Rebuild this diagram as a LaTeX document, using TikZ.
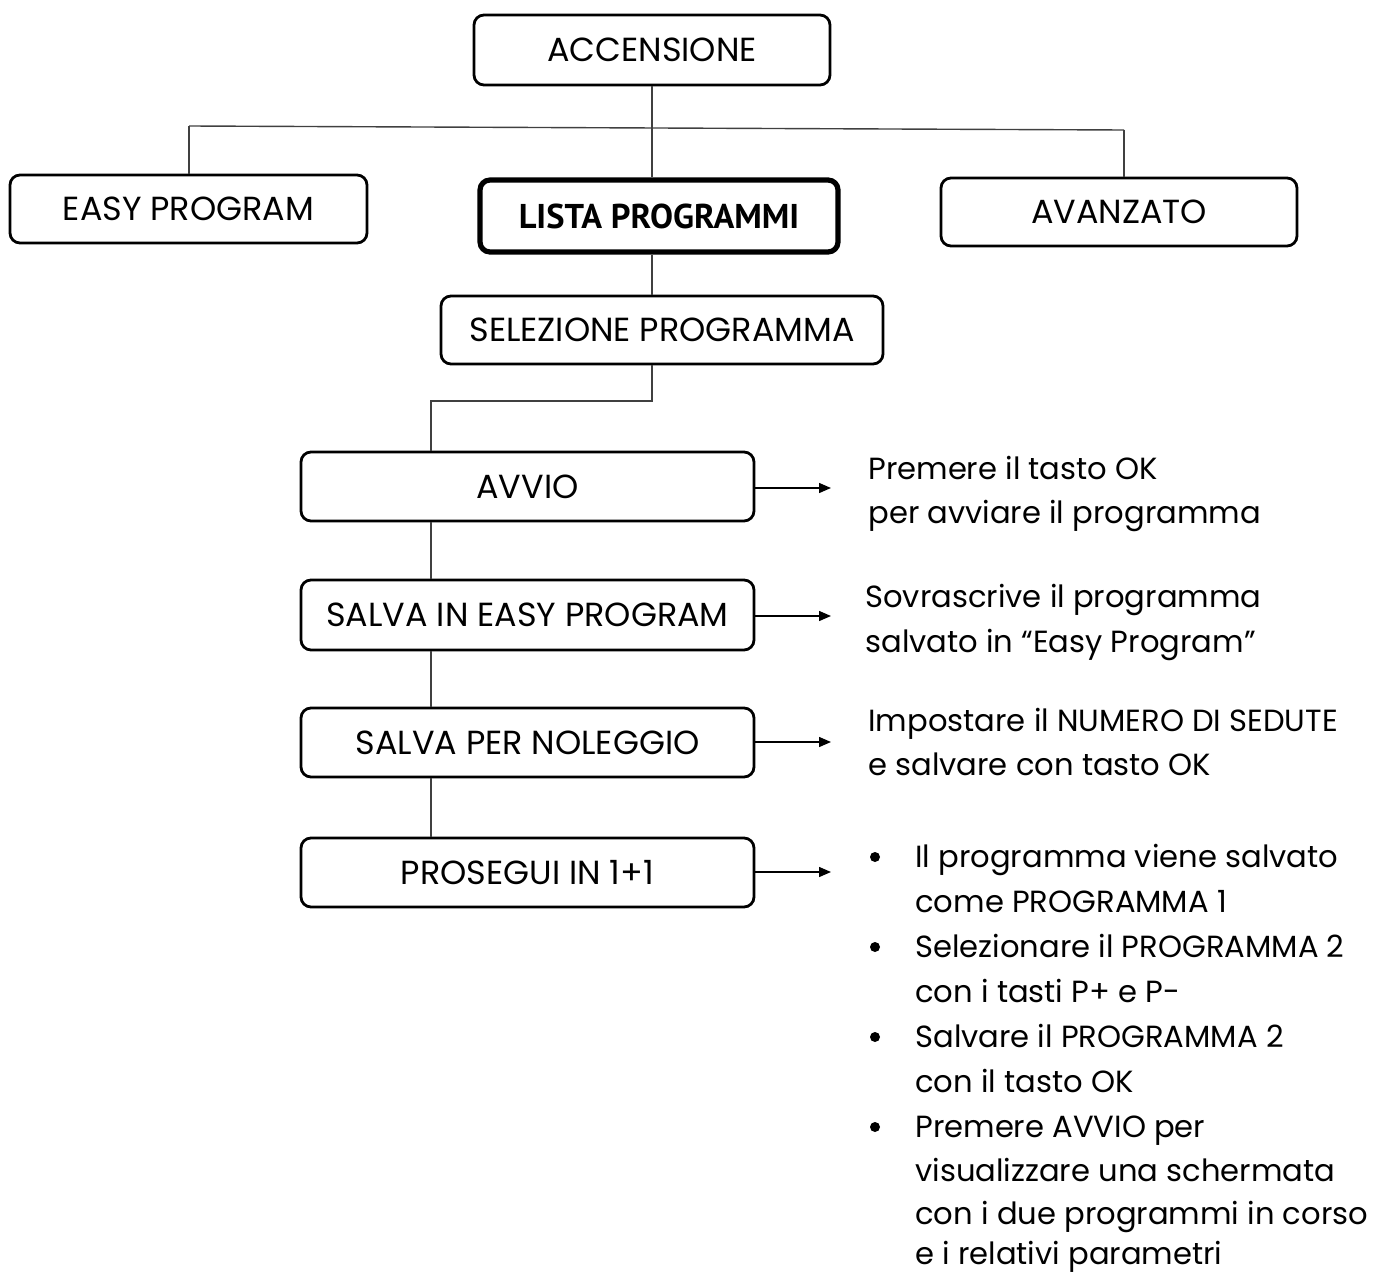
\documentclass[tikz,border=0pt]{standalone}
\usepackage{fontspec}
\setmainfont{Poppins}
\newfontfamily\boldsansfont{PT Sans}
\usetikzlibrary{arrows.meta}
\newcommand\boxfont{\fontsize{16.7}{22.5}\selectfont}
\newcommand\boldboxfont{\boldsansfont\fontsize{17.2}{20}\selectfont\bfseries}
\newcommand\bodyfont{\fontsize{15.3}{22.5}\selectfont}
\begin{document}
\begin{tikzpicture}[x=0.5pt,y=-0.5pt,
  box/.style={draw=black, line width=1.4pt, rounded corners=5pt, inner sep=0pt, font=\boxfont, fill=white},
  thickbox/.style={box, line width=2.6pt, font=\boldboxfont},
  link/.style={draw=black!75, line width=0.7pt},
  arr/.style={draw=black, line width=0.7pt, -{Triangle[length=6pt,width=5pt]}},
  txt/.style={anchor=base west, inner sep=0pt, font=\bodyfont},
  dot/.style={circle, fill=black, inner sep=0pt, minimum size=5pt}]
\useasboundingbox (0,0) rectangle (1373,1274);

% boxes
\node[box, minimum width=178pt, minimum height=35pt] (acc) at (652,50) {ACCENSIONE};
\node[box, minimum width=178.5pt, minimum height=34pt] (easy) at (188.5,209) {EASY PROGRAM};
\node[thickbox, minimum width=179pt, minimum height=36pt] (lista) at (659,216) {LISTA PROGRAMMI};
\node[box, minimum width=178pt, minimum height=34pt] (avanz) at (1119,212) {AVANZATO};
\node[box, minimum width=221pt, minimum height=34pt] (sel) at (662,330) {SELEZIONE PROGRAMMA};
\node[box, minimum width=226.5pt, minimum height=34.5pt] (avvio) at (527.5,486.5) {AVVIO};
\node[box, minimum width=226.5pt, minimum height=35pt] (seasy) at (527.5,615) {SALVA IN EASY PROGRAM};
\node[box, minimum width=226.5pt, minimum height=34.5pt] (nol) at (527.5,742.5) {SALVA PER NOLEGGIO};
\node[box, minimum width=226.5pt, minimum height=34.5pt] (pros) at (527.5,872.5) {PROSEGUI IN 1+1};

% helper coordinates
\coordinate (hl) at (189,126);
\coordinate (hr) at (1124,130);
\coordinate (spine) at (431,401);
\coordinate (tipx) at (831,0);

% tree connectors
\draw[link] (hl) -- (hr);
\draw[link] (hl) -- (hl |- easy.north);
\draw[link] (hr) -- (hr |- avanz.north);
\draw[link] (acc.south) -- (acc.south |- lista.north);
\draw[link] (acc.south |- lista.south) -- (acc.south |- sel.north);
\draw[link] (acc.south |- sel.south) -- (acc.south |- spine) -- (spine) -- (spine |- avvio.north);
\draw[link] (spine |- avvio.south) -- (spine |- seasy.north);
\draw[link] (spine |- seasy.south) -- (spine |- nol.north);
\draw[link] (spine |- nol.south) -- (spine |- pros.north);

% arrows
\draw[arr] (avvio.east |- 0,488) -- (tipx |- 0,488);
\draw[arr] (seasy.east |- 0,616) -- (tipx |- 0,616);
\draw[arr] (nol.east |- 0,742) -- (tipx |- 0,742);
\draw[arr] (pros.east |- 0,872) -- (tipx |- 0,872);

% descriptions
\node[txt] (d1a) at (868,479) {Premere il tasto OK};
\node[txt] (d1b) at (868,523) {per avviare il programma};
\node[txt] (d2a) at (865,607) {Sovrascrive il programma};
\node[txt] (d2b) at (865,652) {salvato in “Easy Program”};
\node[txt] (d3a) at (868,731) {Impostare il NUMERO DI SEDUTE};
\node[txt] (d3b) at (868,775) {e salvare con tasto OK};

% bullet list
\node[dot] (b1) at (875,857) {};
\node[dot] (b2) at (875,947) {};
\node[dot] (b3) at (875,1037) {};
\node[dot] (b4) at (875,1127) {};
\node[txt] (l1) at (915,867) {Il programma viene salvato};
\node[txt] (l2) at (915,912) {come PROGRAMMA 1};
\node[txt] (l3) at (915,957) {Selezionare il PROGRAMMA 2};
\node[txt] (l4) at (915,1002) {con i tasti P+ e P-};
\node[txt] (l5) at (915,1047) {Salvare il PROGRAMMA 2};
\node[txt] (l6) at (915,1092) {con il tasto OK};
\node[txt] (l7) at (915,1137) {Premere AVVIO per};
\node[txt] (l8) at (915,1181) {visualizzare una schermata};
\node[txt] (l9) at (915,1224) {con i due programmi in corso};
\node[txt] (l10) at (915,1264) {e i relativi parametri};
\end{tikzpicture}
\end{document}
